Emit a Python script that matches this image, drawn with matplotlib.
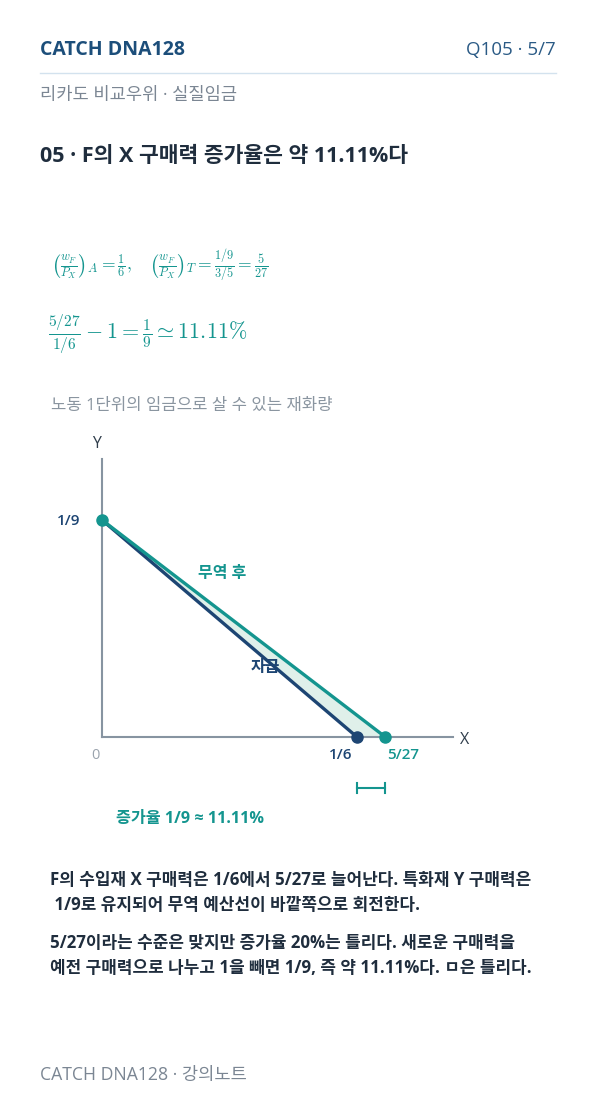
import matplotlib
matplotlib.use("Agg")
import matplotlib.pyplot as plt

plt.rcParams['font.family'] = ['Open Sans', 'Noto Sans CJK KR', 'DejaVu Sans']
plt.rcParams['mathtext.fontset'] = 'cm'

# ---- data ----
y_intercept = 1 / 9          # Y purchasing power (unchanged)
x_autarky = 1 / 6            # X purchasing power, autarky
x_trade = 5 / 27             # X purchasing power, after trade
y_tick_labels = ["1/9"]
x_tick_labels = ["1/6", "5/27"]
line_labels = ["자급", "무역 후"]

TEAL = "#14958f"
NAVY = "#1d4573"
AXIS = "#8794a1"
DARK = "#1f2d3d"
GRAY = "#7b8693"
FILL = "#dff0ea"

W, H = 596, 1106
fig = plt.figure(figsize=(W / 100, H / 100), dpi=100)
fig.patch.set_facecolor("white")

page = fig.add_axes([0, 0, 1, 1])
page.set_xlim(0, W)
page.set_ylim(H, 0)
page.axis("off")

# header
page.text(40, 50, "CATCH DNA128", fontsize=14, fontweight="bold", color="#1c4e7a", va="center")
page.text(556, 50, "Q105 · 5/7", fontsize=13.5, color="#2a5a85", va="center", ha="right")
page.plot([40, 556], [73, 73], color="#d3e2ee", lw=1)
page.text(40, 95, "리카도 비교우위 · 실질임금", fontsize=12.7, color=GRAY, va="center")
page.text(40, 157, "05 · F의 X 구매력 증가율은 약 11.11%다", fontsize=15.5, fontweight="bold",
          color=DARK, va="center")

# formulas
page.text(51, 266, r"$\left(\frac{w_F}{P_X}\right)_A=\frac{1}{6},\quad\left(\frac{w_F}{P_X}\right)_T=\frac{1/9}{3/5}=\frac{5}{27}$",
          fontsize=12.6, color=TEAL, va="center")
page.text(48, 334, r"$\frac{5/27}{1/6}-1=\frac{1}{9}\simeq 11.11\%$",
          fontsize=15.9, color=TEAL, va="center")

page.text(51, 406, "노동 1단위의 임금으로 살 수 있는 재화량", fontsize=12, color="#8a95a0", va="center")

# chart axes
ox, oy = 102, 737
xr, yt = 453, 459
ax = fig.add_axes([ox / W, (H - oy) / H, (xr - ox) / W, (oy - yt) / H])
px_per_x = (357 - ox) / x_autarky
px_per_y = (oy - 520) / y_intercept
ax.set_xlim(0, (xr - ox) / px_per_x)
ax.set_ylim(0, (oy - yt) / px_per_y)
ax.patch.set_alpha(0)
for s in ["top", "right"]:
    ax.spines[s].set_visible(False)
for s in ["left", "bottom"]:
    ax.spines[s].set_color(AXIS)
    ax.spines[s].set_linewidth(1.5)
ax.set_xticks([])
ax.set_yticks([])

ax.fill([0, x_autarky, x_trade], [y_intercept, 0, 0], color=FILL, zorder=1)
ax.plot([0, x_autarky], [y_intercept, 0], color=NAVY, lw=2.4, zorder=2, solid_capstyle="round")
ax.plot([0, x_trade], [y_intercept, 0], color=TEAL, lw=2.4, zorder=3, solid_capstyle="round")
ax.plot([x_autarky], [0], "o", color=NAVY, ms=8, zorder=4, clip_on=False)
ax.plot([x_trade, 0], [0, y_intercept], "o", color=TEAL, ms=8, zorder=5, ls="none", clip_on=False)

off = dict(textcoords="offset points", annotation_clip=False)
ax.annotate("Y", (0, ax.get_ylim()[1]), xytext=(-4, 11), ha="center", va="center",
            fontsize=11.5, color="#2f3d4b", **off)
ax.annotate("X", (ax.get_xlim()[1], 0), xytext=(8, -2), ha="center", va="center",
            fontsize=11.5, color="#2f3d4b", **off)
ax.annotate("0", (0, 0), xytext=(-5, -13), ha="center", va="center",
            fontsize=10.5, color="#9aa3ad", **off)
lab = dict(ha="center", va="center", fontsize=11, fontweight="semibold")
ax.annotate(y_tick_labels[0], (0, y_intercept), xytext=(-24, -1), color=NAVY, **lab, **off)
ax.annotate(x_tick_labels[0], (x_autarky, 0), xytext=(-11.5, -13), color=NAVY, **lab, **off)
ax.annotate(x_tick_labels[1], (x_trade, 0), xytext=(13, -13), color=TEAL, **lab, **off)
klab = dict(ha="center", va="center", fontsize=11.5, fontweight="bold")
ax.annotate(line_labels[1], (x_trade * 0.424, y_intercept * 0.75), xytext=(0, 0),
            color=TEAL, **klab, **off)
ax.annotate(line_labels[0], (x_autarky * 0.64, y_intercept * 0.32), xytext=(0, 0),
            color=NAVY, **klab, **off)

# increase bracket
yb = -(788 - oy) / px_per_y
tick = 5 / px_per_y
ax.plot([x_autarky, x_trade], [yb, yb], color=TEAL, lw=1.5, clip_on=False)
ax.plot([x_autarky, x_autarky], [yb - tick, yb + tick], color=TEAL, lw=1.5, clip_on=False)
ax.plot([x_trade, x_trade], [yb - tick, yb + tick], color=TEAL, lw=1.5, clip_on=False)

page.text(190.5, 819, "증가율 1/9 ≈ 11.11%", fontsize=11.7, color=TEAL, fontweight="bold",
          ha="center", va="center")

# explanation
body = dict(fontsize=12.2, color=DARK, fontweight="bold", va="center")
page.text(50, 880, "F의 수입재 X 구매력은 1/6에서 5/27로 늘어난다. 특화재 Y 구매력은", **body)
page.text(50, 905, " 1/9로 유지되어 무역 예산선이 바깥쪽으로 회전한다.", **body)
page.text(50, 943, "5/27이라는 수준은 맞지만 증가율 20%는 틀리다. 새로운 구매력을", **body)
page.text(50, 968, "예전 구매력으로 나누고 1을 빼면 1/9, 즉 약 11.11%다. ㅁ은 틀리다.", **body)

page.text(40, 1075, "CATCH DNA128 · 강의노트", fontsize=12.7, color=GRAY, va="center")

fig.savefig("out.png", dpi=100, facecolor="white")
